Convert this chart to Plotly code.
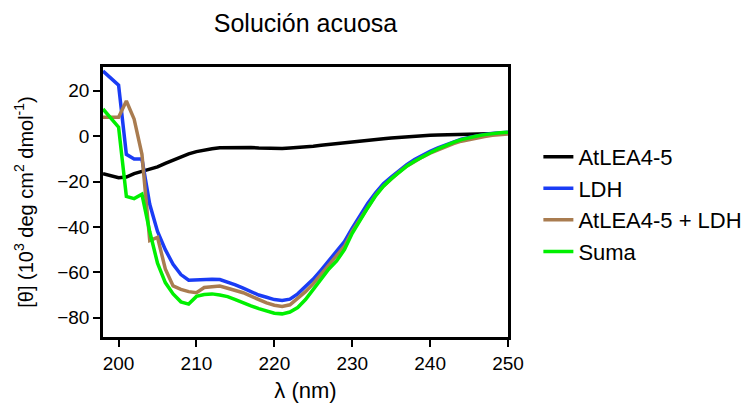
import plotly.graph_objects as go

wavelength = list(range(198, 251))

atlea = [-16.5, -17.5, -18.3, -18.0, -16.5, -15.5, -14.5, -13.5, -12.0, -10.5,
         -9.0, -7.8, -6.8, -6.0, -5.5, -5.1, -5.0, -5.0, -4.9, -5.0,
         -5.2, -5.3, -5.4, -5.4, -5.2, -5.0, -4.8, -4.4, -4.0, -3.6,
         -3.2, -2.8, -2.4, -2.0, -1.7, -1.4, -1.1, -0.8, -0.5, -0.2,
         0.0, 0.2, 0.4, 0.5, 0.6, 0.7, 0.8, 0.9, 1.0, 1.1,
         1.2, 1.3, 1.3]

ldh = [28.7, 25.5, 22.5, -8.0, -10.0, -10.0, -30.0, -42.0, -50.0, -56.5,
       -61.0, -63.5, -63.3, -63.0, -63.0, -63.2, -64.2, -65.5, -67.0, -68.5,
       -70.0, -71.0, -72.0, -72.4, -71.8, -69.5, -66.5, -63.0, -59.0, -55.0,
       -51.0, -46.5, -40.5, -35.0, -29.5, -25.0, -21.0, -18.0, -15.0, -12.5,
       -10.3, -8.4, -6.7, -5.1, -3.7, -2.4, -1.3, -0.5, 0.2, 0.8,
       1.2, 1.5, 1.8]

mezcla = [8.4, 8.4, 8.4, 15.5, 7.5, -8.0, -46.0, -44.6, -58.5, -66.0,
          -67.5, -68.5, -69.0, -66.7, -66.3, -66.0, -67.0, -68.0, -69.0, -70.5,
          -72.0, -73.5, -74.5, -75.0, -74.3, -71.5, -68.5, -65.0, -61.0, -57.0,
          -53.0, -48.5, -42.0, -36.5, -31.0, -26.0, -22.0, -18.8, -15.8, -13.2,
          -11.0, -9.2, -7.5, -6.0, -4.5, -3.3, -2.2, -1.4, -0.7, -0.1,
          0.4, 0.7, 1.0]

suma = [12.0, 8.0, 4.0, -26.5, -27.5, -25.6, -42.0, -56.0, -64.5, -69.5,
        -73.0, -74.0, -70.6, -69.8, -69.5, -70.0, -70.7, -72.0, -73.5, -74.8,
        -76.0, -77.0, -78.0, -78.3, -77.5, -75.5, -72.0, -67.5, -63.0, -58.5,
        -55.0, -50.0, -42.8, -37.0, -31.5, -26.3, -22.0, -18.8, -15.8, -13.2,
        -11.0, -9.0, -7.3, -5.6, -4.0, -2.7, -1.5, -0.6, 0.1, 0.7,
        1.2, 1.5, 1.8]

series = [
    ("AtLEA4-5", atlea, "#000000"),
    ("LDH", ldh, "#1a3cf5"),
    ("AtLEA4-5 + LDH", mezcla, "#a97c50"),
    ("Suma", suma, "#00f000"),
]

fig = go.Figure()
for i, (name, vals, color) in enumerate(series):
    fig.add_trace(go.Scatter(
        x=wavelength, y=vals, mode="lines", name=name,
        line=dict(color=color, width=3.5), legendgroup=f"g{i}",
    ))

font_family = "Liberation Sans, Arial, sans-serif"

fig.update_layout(
    width=746, height=403,
    margin=dict(l=103, r=238, t=67, b=66, autoexpand=False),
    paper_bgcolor="white", plot_bgcolor="white",
    font=dict(family=font_family, color="black", size=19),
    title=dict(text="Solución acuosa", x=(103 + 508) / 2 / 746, xanchor="center",
               y=1 - 23 / 403, yanchor="middle", font=dict(size=25)),
    showlegend=True,
    legend=dict(x=1.075, xanchor="left", y=0.745, yanchor="top",
                font=dict(size=22), tracegroupgap=0, bgcolor="rgba(0,0,0,0)"),
)

fig.update_xaxes(
    range=[198, 250], tickvals=[200, 210, 220, 230, 240, 250],
    showgrid=False, zeroline=False, automargin=False,
    showline=True, linecolor="black", linewidth=2.5, mirror=True,
    ticks="outside", ticklen=7, tickwidth=2, tickcolor="black",
    tickfont=dict(size=19),
    title=dict(text="λ (nm)", font=dict(size=22), standoff=18),
)
fig.update_yaxes(
    range=[-88.5, 30.5], tickvals=[20, 0, -20, -40, -60, -80],
    showgrid=False, zeroline=False, automargin=False,
    showline=True, linecolor="black", linewidth=2.5, mirror=True,
    ticks="outside", ticklen=7, tickwidth=2, tickcolor="black",
    tickfont=dict(size=19),
    title=dict(text="[θ] (10<sup>3</sup> deg cm<sup>2</sup> dmol<sup>-1</sup>)",
               font=dict(size=20), standoff=19),
)

fig.write_html("out.html")
